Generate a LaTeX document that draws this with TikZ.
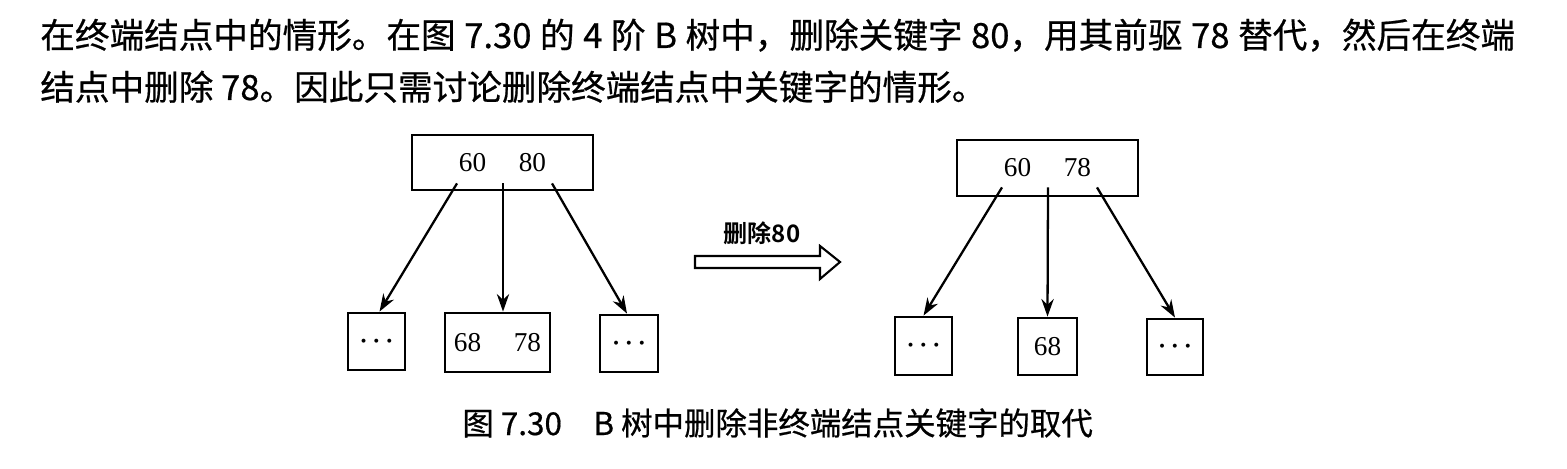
\documentclass[tikz,border=0pt]{standalone}
\usepackage{fontspec}
\setmainfont{Liberation Serif}
\newfontfamily\cjk[FakeBold=0.6]{Noto Sans CJK SC}
\newfontfamily\cjkbold{Noto Sans CJK SC Bold}
\usetikzlibrary{arrows.meta, calc}
\XeTeXlinebreaklocale "zh"
\XeTeXlinebreakskip=0pt plus 2pt
\newcommand{\moredots}{{\fontsize{14pt}{16pt}\selectfont\boldmath$\cdots$}}

\begin{document}
\begin{tikzpicture}[x=0.02cm, y=-0.02cm,
    keybox/.style={draw, line width=1.6pt, inner sep=0pt, font=\fontsize{15.5pt}{18pt}\selectfont},
    link/.style={line width=1.3pt, -{Stealth[length=10pt, width=7pt]}}]
    \useasboundingbox (0,0) rectangle (1567,469);

    % --- Running text above the figure ---
    \node[anchor=base west, inner sep=0pt, font=\cjk\fontsize{19.7pt}{23pt}\selectfont] (line2) at (40,48)
        {\makebox[29.5cm][s]{在终端结点中的情形。在图 7.30 的 4 阶 B 树中，删除关键字 80，用其前驱 78 替代，然后在终端}};
    \node[anchor=base west, inner sep=0pt, font=\cjk\fontsize{19.7pt}{23pt}\selectfont] (line3) at (40,100)
        {结点中删除 78。因此只需讨论删除终端结点中关键字的情形。};

    % --- Before: root 60 80 and its three subtrees ---
    \node[keybox, minimum width=3.62cm, minimum height=1.1cm] (oldroot) at (502.5,162.5) {60\hspace{1.2em}80};
    \node[keybox, minimum width=1.14cm, minimum height=1.14cm] (oldleft) at (376.5,341.5) {\moredots};
    \node[keybox, minimum width=2.1cm, minimum height=1.18cm] (oldmid) at (497.5,342.5) {68\hspace{1.2em}78};
    \node[keybox, minimum width=1.16cm, minimum height=1.14cm] (oldright) at (629,343.5) {\moredots};

    \draw[link] ($(oldroot.south)+(-45.5,-8)$) -- ($(oldleft.north)+(3,0)$);
    \draw[link] ($(oldroot.south)+(0.5,-8)$) -- ($(oldmid.north)+(5.5,0)$);
    \draw[link] ($(oldroot.south)+(49.5,-8)$) -- ($(oldright.north)+(-2,0)$);

    % --- Block arrow with its label ---
    \node[font=\cjkbold\fontsize{13.7pt}{16pt}\selectfont, inner sep=0pt] (delkey) at (762,233) {删除80};
    \draw[line width=1.2pt] (695,256) -- (820,256) -- (820,246) -- (840,262)
        -- (820,279) -- (820,268) -- (695,268) -- cycle;

    % --- After: root 60 78 and its three subtrees ---
    \node[keybox, minimum width=3.62cm, minimum height=1.12cm] (newroot) at (1047.5,168) {60\hspace{1.2em}78};
    \node[keybox, minimum width=1.14cm, minimum height=1.16cm] (newleft) at (923.5,346) {\moredots};
    \node[keybox, minimum width=1.18cm, minimum height=1.14cm] (newmid) at (1047.5,346.5) {68};
    \node[keybox, minimum width=1.12cm, minimum height=1.12cm] (newright) at (1175,347) {\moredots};

    \draw[link] ($(newroot.south)+(-45.5,-10)$) -- (newleft.north);
    \draw[link] ($(newroot.south)+(0.5,-10)$) -- (newmid.north);
    \draw[link] ($(newroot.south)+(49.5,-10)$) -- (newright.north);

    % --- Caption ---
    \node[anchor=base west, inner sep=0pt, font=\cjk\fontsize{17.9pt}{21pt}\selectfont] (caption) at (462,435)
        {图 7.30\quad B 树中删除非终端结点关键字的取代};
\end{tikzpicture}
\end{document}
